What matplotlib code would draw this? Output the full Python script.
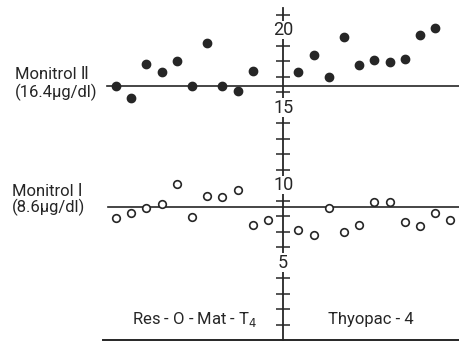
import matplotlib
matplotlib.use('Agg')
import matplotlib.pyplot as plt

# Data
res_x = [1, 2, 3, 4, 5, 6, 7, 8, 9, 10]
thy_x = [13, 14, 15, 16, 17, 18, 19, 20, 21, 22]
mon2_res = [16.4, 15.6, 17.8, 17.3, 18.0, 16.4, 19.15, 16.4, 16.1, 17.35]
mon2_thy = [17.3, 18.4, 17.0, 19.55, 17.75, 18.05, 17.95, 18.15, 19.7, 20.15]

res_x1 = [1, 2, 3, 4, 5, 6, 7, 8, 9, 10, 11]
thy_x1 = [13, 14, 15, 16, 17, 18, 19, 20, 21, 22, 23]
mon1_res = [7.87, 8.17, 8.55, 8.8, 10.1, 7.95, 9.3, 9.2, 9.7, 7.4, 7.75]
mon1_thy = [7.1, 6.75, 8.55, 6.95, 7.4, 8.9, 8.9, 7.6, 7.35, 8.2, 7.75]

mon2_mean = 16.4
mon1_mean = 8.6
major_ticks = [5, 10, 15, 20]

ink = '#262626'
plt.rcParams['font.family'] = ['Roboto', 'DejaVu Sans', 'Noto Sans CJK JP']

fig = plt.figure(figsize=(4.59, 3.41), dpi=100)
ax = fig.add_axes([0, 0, 1, 1])
ax.set_xlim(-6.63, 23.57)
ax.set_ylim(-0.06, 21.94)
ax.axis('off')

# reference lines
ax.plot([0.41, 23.57], [mon2_mean, mon2_mean], color=ink, lw=1.2, zorder=1)
ax.plot([0.47, 23.57], [mon1_mean, mon1_mean], color=ink, lw=1.2, zorder=1)
ax.plot([0.14, 23.57], [0, 0], color=ink, lw=1.4, zorder=1)

# vertical axis with ticks
ax.plot([12, 12], [0, 21.4], color=ink, lw=1.3, zorder=1)
minor = [v for v in range(1, 22) if v not in major_ticks]
ax.scatter([12] * len(minor), minor, marker='_', s=90, color=ink, linewidths=1.1, zorder=2)
for v in major_ticks:
    ax.text(12, v, str(v), ha='center', va='center', fontsize=13, color=ink, zorder=3,
            bbox=dict(facecolor='white', edgecolor='none', pad=0.2))

# points
ax.scatter(res_x, mon2_res, s=36, color=ink, zorder=4)
ax.scatter(thy_x, mon2_thy, s=36, color=ink, zorder=4)
ax.scatter(res_x1, mon1_res, s=30, facecolor='white', edgecolor=ink, linewidths=1.2, zorder=4)
ax.scatter(thy_x1, mon1_thy, s=30, facecolor='white', edgecolor=ink, linewidths=1.2, zorder=4)

# labels
fs = 12
ax.text(-5.64, 17.15, 'Monitrol \u2161', ha='left', va='center', fontsize=fs, color=ink)
ax.text(-5.64, 16.0, '(16.4\u03bcg/dl)', ha='left', va='center', fontsize=fs, color=ink)
ax.text(-5.84, 9.6, 'Monitrol \u2160', ha='left', va='center', fontsize=fs, color=ink)
ax.text(-5.84, 8.55, '(8.6\u03bcg/dl)', ha='left', va='center', fontsize=fs, color=ink)
ax.text(6.2, 1.3, 'Res - O - Mat - T$_4$', ha='center', va='center', fontsize=fs, color=ink)
ax.text(17.8, 1.3, 'Thyopac - 4', ha='center', va='center', fontsize=fs, color=ink)

fig.savefig('out.png', dpi=100)
